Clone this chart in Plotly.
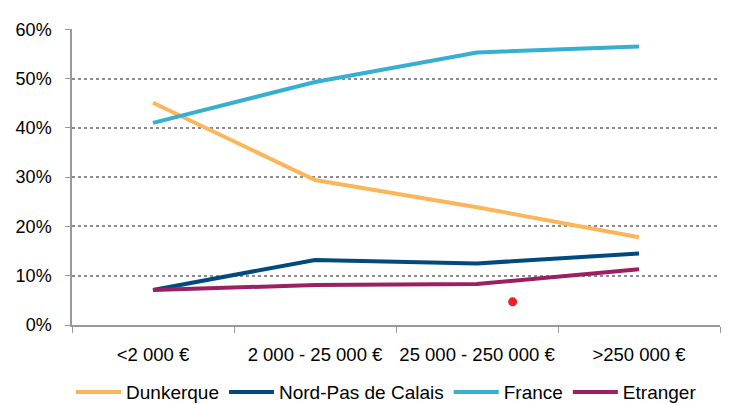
import plotly.graph_objects as go

categories = ["<2 000 €", "2 000 - 25 000 €", "25 000 - 250 000 €", ">250 000 €"]
dunkerque = [45.1, 29.4, 23.9, 17.8]
nord_pdc = [7.1, 13.2, 12.5, 14.5]
france = [41.0, 49.3, 55.3, 56.5]
etranger = [7.1, 8.1, 8.3, 11.3]
stray_x = [2.22]
stray_y = [4.7]

series = [
    ("Dunkerque", dunkerque, "#FDB55A"),
    ("Nord-Pas de Calais", nord_pdc, "#004A80"),
    ("France", france, "#37AFD1"),
    ("Etranger", etranger, "#9B1F63"),
]

fig = go.Figure()
for name, vals, col in series:
    fig.add_trace(go.Scatter(x=categories, y=[v / 100 for v in vals], name=name,
                             mode="lines", line=dict(color=col, width=4)))

fig.add_trace(go.Scatter(x=stray_x, y=[v / 100 for v in stray_y], xaxis="x2",
                         mode="markers", marker=dict(color="#EE2026", size=9),
                         showlegend=False, hoverinfo="skip"))

font = dict(family="Liberation Sans, Arial, sans-serif", size=18, color="#000000")
fig.update_layout(
    width=721, height=396,
    margin=dict(l=64, r=9, t=21, b=79),
    paper_bgcolor="white", plot_bgcolor="white",
    font=font,
    showlegend=True,
    legend=dict(orientation="h", x=0.525, xref="container", xanchor="center",
                y=0.03, yref="container", yanchor="middle",
                font=dict(size=19), itemwidth=45, tracegroupgap=0),
    xaxis=dict(type="category", range=[-0.5, 3.5], showline=True, linecolor="#999999",
               linewidth=1.5, ticks="outside", tickson="boundaries", ticklen=6,
               tickcolor="#999999", showgrid=False, ticklabelstandoff=12, tickangle=0,
               tickfont=dict(size=18.5), automargin=False),
    xaxis2=dict(overlaying="x", range=[-0.5, 3.5], visible=False),
    yaxis=dict(range=[0, 0.6005], dtick=0.1, tickformat=".0%", showline=True,
               linecolor="#999999", linewidth=1.5, ticks="outside", ticklen=5,
               tickcolor="#999999", showgrid=True, gridcolor="#8c8c8c", griddash="dot",
               gridwidth=1.5, zeroline=False, ticklabelstandoff=10,
               tickfont=dict(size=18), automargin=False),
)

fig.write_html("out.html")
